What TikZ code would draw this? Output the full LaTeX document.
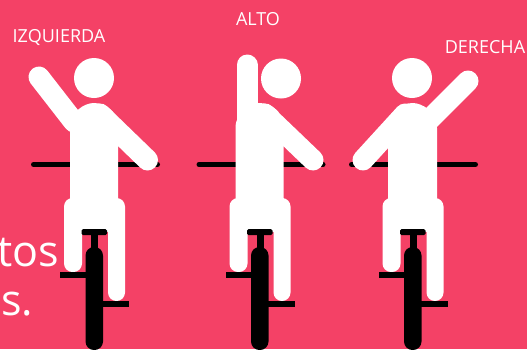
\documentclass[tikz,border=0pt]{standalone}
\usepackage{fontspec}
\setmainfont{Open Sans}
\definecolor{bgpink}{HTML}{F44166}
\tikzset{
  label text/.style={text=white,font=\fontsize{18}{20}\selectfont,inner sep=0pt},
  big text/.style={text=white,font=\fontsize{43}{48}\selectfont,inner sep=0pt},
  limb/.style={draw=white,line width=21pt,line cap=round},
  bar/.style={draw=black,line width=5pt,line cap=round},
  blackpart/.style={fill=black,draw=none},
  whitepart/.style={fill=white,draw=none}
}
\newcommand{\handlebar}[1]{\begin{scope}[shift={(#1,0)}]
  \draw[bar] (-60.5,164.5) -- (63.5,164.5);
\end{scope}}
\newcommand{\riderbody}[1]{\begin{scope}[shift={(#1,0)}]
  % legs
  \fill[whitepart,rounded corners=8.5pt] (-30,198) rectangle (-12,272);
  \fill[whitepart,rounded corners=8.5pt] (14,198) rectangle (31,301);
  \fill[whitepart] (-24,198) rectangle (24,232);
  % bicycle
  \fill[blackpart,rounded corners=1.5pt] (-12.5,229) rectangle (13,235);
  \fill[blackpart] (-3,233) rectangle (4,250);
  \fill[blackpart,rounded corners=8.5pt] (-8.5,247) rectangle (9,350);
  \fill[blackpart] (-34,272) rectangle (-8,278);
  \fill[blackpart] (8,301) rectangle (35,307);
\end{scope}}
\newcommand{\torsoR}[1]{\begin{scope}[shift={(#1,0)}]
  \fill[whitepart] (-24,210) -- (-24,128) .. controls (-24,112) and (-10,103) .. (0,103) .. controls (7,103) and (14,106) .. (19,112) -- (24,146) -- (24,210) -- cycle;
\end{scope}}
\newcommand{\torsoL}[1]{\begin{scope}[shift={(#1,0)}]
  \fill[whitepart] (24.5,210) -- (24.5,128) .. controls (24.5,112) and (10,103) .. (0,103) .. controls (-7,103) and (-14,106) .. (-19,113) -- (-24.5,146) -- (-24.5,210) -- cycle;
\end{scope}}
\begin{document}
\begin{tikzpicture}[x=1pt,y=-1pt]
  \useasboundingbox (0,0) rectangle (527,349);
  \clip (0,0) rectangle (527,349);
  \fill[bgpink] (0,0) rectangle (527,349);

  \node[big text,anchor=base east] (tos) at (59.5,266) {tos};
  \node[big text,anchor=base west] (sdot) at (1,315) {s.};

  \node[label text,anchor=base] (izq) at (59,42) {IZQUIERDA};
  \node[label text,anchor=base] (alto) at (258,25) {ALTO};
  \node[label text,anchor=base] (der) at (485,53) {DERECHA};

  \handlebar{94}
  \handlebar{259.5}
  \handlebar{412}

  % rider 1: left arm up
  \riderbody{94}
  \torsoR{94}
  \fill[whitepart] (94,78) circle (20);
  \draw[limb] (39,77) -- (74,122);
  \draw[limb] (147.5,160) -- (100,114);

  % rider 2: arm straight up
  \riderbody{259.5}
  \torsoR{259.5}
  \fill[whitepart] (281,78.5) circle (20);
  \draw[limb] (247,65) -- (247,130);
  \draw[limb] (313,160) -- (265,114);

  % rider 3: right arm up
  \riderbody{412.5}
  \torsoL{412.5}
  \fill[whitepart] (412,78) circle (20);
  \draw[limb] (468,81) -- (428,121);
  \draw[limb] (363,160) -- (405,114);
\end{tikzpicture}
\end{document}
